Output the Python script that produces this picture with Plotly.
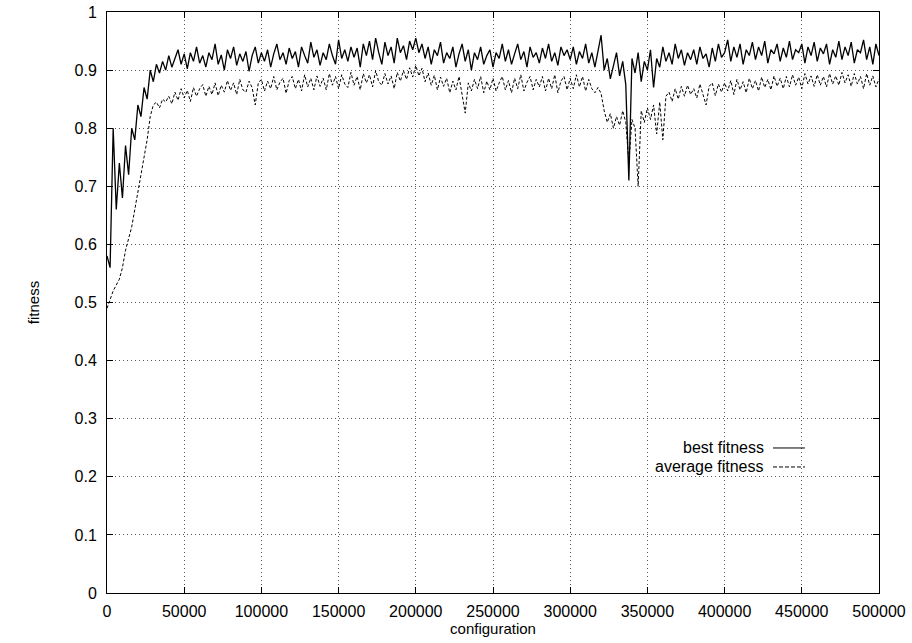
import plotly.graph_objects as go

STEP = 2000
best_fitness = [
    0.58, 0.56, 0.80, 0.66, 0.74, 0.68, 0.77, 0.72, 0.80, 0.78,
    0.84, 0.82, 0.87, 0.85, 0.90, 0.88, 0.91, 0.895, 0.915, 0.90,
    0.925, 0.905, 0.92, 0.935, 0.91, 0.928, 0.902, 0.93, 0.915, 0.94,
    0.912, 0.925, 0.905, 0.93, 0.918, 0.945, 0.91, 0.926, 0.90, 0.935,
    0.92, 0.94, 0.908, 0.928, 0.915, 0.932, 0.898, 0.925, 0.94, 0.912,
    0.93, 0.915, 0.935, 0.905, 0.928, 0.945, 0.918, 0.93, 0.91, 0.938,
    0.92, 0.932, 0.905, 0.94, 0.925, 0.912, 0.948, 0.922, 0.935, 0.908,
    0.93, 0.918, 0.945, 0.925, 0.91, 0.952, 0.92, 0.935, 0.915, 0.94,
    0.922, 0.938, 0.905, 0.945, 0.925, 0.95, 0.918, 0.955, 0.93, 0.91,
    0.948, 0.925, 0.94, 0.912, 0.955, 0.93, 0.942, 0.918, 0.95, 0.935,
    0.955, 0.93, 0.945, 0.92, 0.94, 0.91, 0.935, 0.925, 0.948, 0.912,
    0.93, 0.92, 0.94, 0.905, 0.928, 0.945, 0.915, 0.935, 0.90, 0.93,
    0.918, 0.94, 0.91, 0.925, 0.935, 0.905, 0.93, 0.92, 0.945, 0.915,
    0.935, 0.91, 0.928, 0.945, 0.918, 0.932, 0.905, 0.94, 0.922, 0.93,
    0.912, 0.938, 0.92, 0.945, 0.915, 0.93, 0.908, 0.94, 0.925, 0.935,
    0.918, 0.94, 0.91, 0.932, 0.92, 0.945, 0.912, 0.93, 0.905, 0.935,
    0.96, 0.90, 0.92, 0.885, 0.91, 0.93, 0.89, 0.915, 0.875, 0.71,
    0.92, 0.895, 0.93, 0.88, 0.915, 0.90, 0.935, 0.87, 0.92, 0.905,
    0.94, 0.915, 0.93, 0.91, 0.945, 0.92, 0.935, 0.908, 0.93, 0.918,
    0.935, 0.91, 0.94, 0.92, 0.928, 0.905, 0.938, 0.915, 0.945, 0.922,
    0.93, 0.952, 0.915, 0.94, 0.922, 0.945, 0.91, 0.935, 0.925, 0.948,
    0.918, 0.94, 0.925, 0.95, 0.912, 0.935, 0.928, 0.945, 0.915, 0.938,
    0.922, 0.95, 0.918, 0.935, 0.93, 0.945, 0.912, 0.94, 0.925, 0.948,
    0.915, 0.938, 0.928, 0.945, 0.91, 0.935, 0.922, 0.95, 0.918, 0.94,
    0.925, 0.948, 0.912, 0.935, 0.93, 0.952, 0.918, 0.94, 0.91, 0.945,
    0.925,
]
average_fitness = [
    0.49, 0.505, 0.52, 0.53, 0.54, 0.56, 0.59, 0.61, 0.63, 0.66,
    0.69, 0.72, 0.75, 0.78, 0.82, 0.84, 0.845, 0.835, 0.85, 0.845,
    0.855, 0.842, 0.862, 0.848, 0.868, 0.852, 0.865, 0.846, 0.87, 0.855,
    0.868, 0.875, 0.855, 0.872, 0.858, 0.878, 0.856, 0.874, 0.862, 0.882,
    0.865, 0.878, 0.858, 0.884, 0.866, 0.862, 0.881, 0.87, 0.84, 0.878,
    0.884, 0.864, 0.881, 0.868, 0.889, 0.866, 0.879, 0.886, 0.86, 0.882,
    0.889, 0.868, 0.884, 0.864, 0.892, 0.871, 0.886, 0.866, 0.89, 0.872,
    0.886, 0.866, 0.894, 0.874, 0.889, 0.868, 0.892, 0.876, 0.87, 0.896,
    0.874, 0.889, 0.866, 0.894, 0.878, 0.892, 0.871, 0.899, 0.88, 0.874,
    0.894, 0.876, 0.89, 0.868, 0.896, 0.881, 0.899, 0.884, 0.904, 0.888,
    0.908, 0.89, 0.903, 0.88, 0.895, 0.874, 0.891, 0.866, 0.888, 0.872,
    0.886, 0.861, 0.881, 0.866, 0.889, 0.858, 0.826, 0.878, 0.864, 0.884,
    0.868, 0.889, 0.861, 0.881, 0.866, 0.886, 0.864, 0.878, 0.889, 0.866,
    0.882, 0.861, 0.886, 0.868, 0.892, 0.864, 0.879, 0.889, 0.866, 0.884,
    0.871, 0.889, 0.864, 0.886, 0.868, 0.892, 0.861, 0.881, 0.889, 0.866,
    0.886, 0.868, 0.892, 0.871, 0.889, 0.864, 0.884, 0.868, 0.861, 0.87,
    0.86, 0.83, 0.81, 0.825, 0.80, 0.82, 0.805, 0.83, 0.81, 0.74,
    0.815, 0.80, 0.70, 0.83, 0.81, 0.835, 0.815, 0.84, 0.79, 0.845,
    0.78, 0.855, 0.862, 0.846, 0.868, 0.85, 0.872, 0.855, 0.874, 0.858,
    0.868, 0.852, 0.876, 0.858, 0.84, 0.872, 0.878, 0.856, 0.876, 0.862,
    0.878, 0.864, 0.882, 0.858, 0.884, 0.866, 0.88, 0.861, 0.886, 0.868,
    0.882, 0.864, 0.888, 0.87, 0.884, 0.866, 0.89, 0.872, 0.886, 0.868,
    0.889, 0.871, 0.892, 0.874, 0.888, 0.868, 0.894, 0.876, 0.89, 0.872,
    0.892, 0.874, 0.889, 0.871, 0.894, 0.876, 0.89, 0.874, 0.896, 0.878,
    0.892, 0.872, 0.894, 0.876, 0.889, 0.868, 0.894, 0.874, 0.89, 0.871,
    0.885,
]
configuration = [i * STEP for i in range(len(best_fitness))]

x_tick_vals = [0, 50000, 100000, 150000, 200000, 250000, 300000, 350000, 400000, 450000, 500000]
x_tick_text = ["0", "50000", "100000", "150000", "200000", "250000", "300000", "350000", "400000", "450000", "500000"]
y_tick_vals = [0, 0.1, 0.2, 0.3, 0.4, 0.5, 0.6, 0.7, 0.8, 0.9, 1.0]
y_tick_text = ["0", "0.1", "0.2", "0.3", "0.4", "0.5", "0.6", "0.7", "0.8", "0.9", "1"]
legend_labels = ["best fitness", "average fitness"]

FONT = "Liberation Sans, Arial, Helvetica, sans-serif"

fig = go.Figure()
fig.add_trace(go.Scatter(x=configuration, y=best_fitness, mode="lines",
                         line=dict(color="black", width=1.3), name=legend_labels[0],
                         showlegend=False))
fig.add_trace(go.Scatter(x=configuration, y=average_fitness, mode="lines",
                         line=dict(color="black", width=1, dash="3px,2px"), name=legend_labels[1],
                         showlegend=False))

axis_common = dict(showline=True, linecolor="black", linewidth=1, mirror="allticks",
                   ticks="inside", ticklen=6, tickcolor="black", tickwidth=1,
                   showgrid=True, gridcolor="#555555", griddash="1px,3px", gridwidth=1,
                   zeroline=False, automargin=False,
                   tickfont=dict(family=FONT, size=16, color="black"))

fig.update_xaxes(range=[0, 500000], tickmode="array", tickvals=x_tick_vals, ticktext=x_tick_text,
                 title=dict(text="configuration", font=dict(family=FONT, size=15, color="black"), standoff=2),
                 ticklabelstandoff=4, **axis_common)
fig.update_yaxes(range=[0, 1], tickmode="array", tickvals=y_tick_vals, ticktext=y_tick_text,
                 title=dict(text="fitness", font=dict(family=FONT, size=15, color="black"), standoff=31),
                 ticklabelstandoff=6, **axis_common)

# gnuplot-style key: text right-aligned, sample line to its right
for label, yp, dash in [(legend_labels[0], 0.2496, "solid"), (legend_labels[1], 0.2169, "4px,2px")]:
    fig.add_annotation(x=0.8536, y=yp, xref="paper", yref="paper", text=label, showarrow=False,
                       xanchor="right", yanchor="middle", font=dict(family=FONT, size=16, color="black"))
    fig.add_shape(type="line", xref="paper", yref="paper", x0=0.8627, x1=0.9041, y0=yp, y1=yp,
                  line=dict(color="black", width=1, dash=dash))

fig.update_layout(width=912, height=643, margin=dict(l=107, r=33, t=12, b=50),
                  paper_bgcolor="white", plot_bgcolor="white", hovermode=False,
                  font=dict(family=FONT, color="black"))

# remove the default 8px page margin so the figure fills the window exactly
fig.write_html("out.html", config={"displayModeBar": False},
               post_script="document.body.style.margin='0';")
